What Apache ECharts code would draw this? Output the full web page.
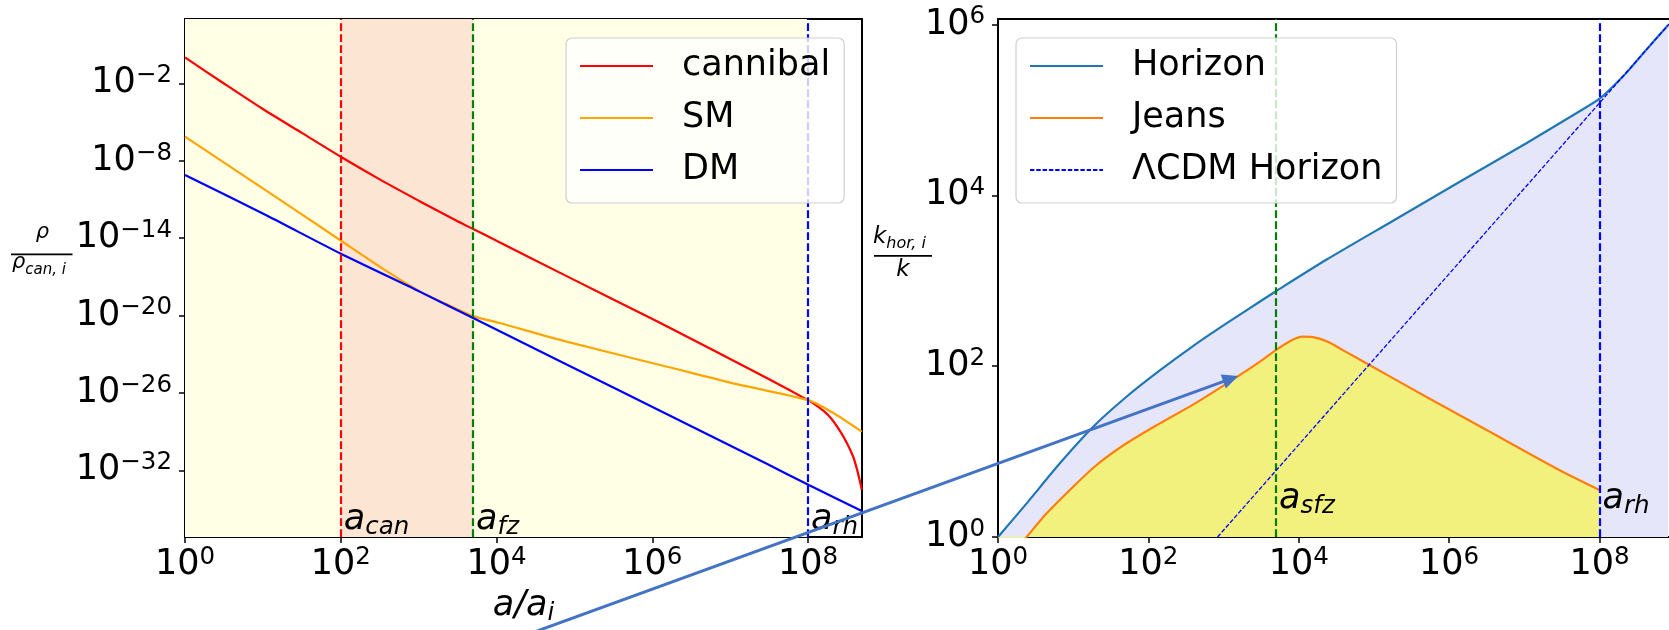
<!DOCTYPE html>
<html><head><meta charset="utf-8">
<script src="https://cdn.jsdelivr.net/npm/echarts@6/dist/echarts.min.js"></script>
<style>html,body{margin:0;padding:0;background:#fff}#c{width:1669px;height:630px}</style>
</head><body><div id="c"></div>
<script>
// ---------- data: log10 values ----------
const cannibalLogA   = [0, 0.5, 1.0, 1.5, 2.0, 2.5, 3.0, 3.5, 3.70, 4.0, 4.90, 6.06, 7.47, 8.01, 8.10, 8.20, 8.30, 8.41, 8.50, 8.58, 8.63, 8.67, 8.69];
const cannibalLogRho = [0, -2.02, -4.0, -5.85, -7.7, -9.45, -11.1, -12.7, -13.3, -14.2, -16.95, -20.45, -24.85, -26.6, -26.95, -27.4, -28.0, -28.95, -29.9, -30.95, -31.95, -32.95, -33.5];
const smLogA   = [0, 1.0, 1.99, 2.6, 3.02, 3.35, 3.70, 4.05, 4.90, 6.19, 7.04, 8.02, 8.33, 8.69];
const smLogRho = [-6.14, -10.15, -14.15, -16.6, -18.15, -19.1, -20.05, -20.6, -22.03, -23.97, -25.26, -26.6, -27.58, -29.0];
const dmLogA   = [0, 1.05, 1.99, 3.02, 3.70, 4.90, 6.19, 7.47, 8.01, 8.69];
const dmLogRho = [-9.11, -12.25, -15.18, -18.17, -20.2, -23.8, -27.65, -31.5, -33.14, -35.15];

const horizonLogA = [0, 0.381, 0.823, 1.266, 1.709, 2.152, 2.594, 3.038, 3.48, 3.702, 4.366, 5.25, 6.136, 7.022, 7.686, 8.005, 8.35, 8.6, 8.912];
const horizonLogK = [0, 0.394, 0.863, 1.291, 1.642, 1.95, 2.235, 2.5, 2.754, 2.88, 3.245, 3.70, 4.155, 4.607, 4.958, 5.134, 5.427, 5.68, 5.992];
const jeansLogA = [0, 0.381, 0.647, 1.0, 1.311, 1.709, 2.152, 2.594, 3.03, 3.48, 3.70, 3.9, 4.05, 4.19, 4.4, 4.586, 4.941, 5.694, 6.578, 7.465, 8.0];
const jeansLogK = [-0.4, 0, 0.277, 0.589, 0.843, 1.097, 1.33, 1.55, 1.79, 2.05, 2.19, 2.30, 2.345, 2.34, 2.28, 2.188, 2.013, 1.642, 1.214, 0.784, 0.55];
const lcdmLogA = [2.92, 5.0, 8.0, 8.925];
const lcdmLogK = [0, 2.08, 5.08, 6.005];

const leftXTicks  = [1, 1e2, 1e4, 1e6, 1e8];
const leftYTicks  = [1e-2, 1e-8, 1e-14, 1e-20, 1e-26, 1e-32];
const rightXTicks = [1, 1e2, 1e4, 1e6, 1e8];
const rightYTicks = [1, 1e2, 1e4, 1e6];

const leftNames  = ['cannibal', 'SM', 'DM'];
const rightNames = ['Horizon', 'Jeans', '\u039BCDM Horizon'];

const aCan = 1e2, aFz = 5e3, aRh = 1e8, aSfz = 5e3;
const leftRange  = {xmin: 1, xmax: Math.pow(10, 8.693), ymin: Math.pow(10, -37.17), ymax: Math.pow(10, 2.98)};
const rightRange = {xmin: 1, xmax: Math.pow(10, 8.925), ymin: 1, ymax: Math.pow(10, 6.064)};

// ---------- helpers ----------
const FONT = 'DejaVu Sans';
const pairs = (la, lv) => la.map((x, i) => [Math.pow(10, x), Math.pow(10, lv[i])]);

function powLabel(v) {
  const e = Math.round(Math.log10(v));
  return '{b|10}{e|' + (e < 0 ? '\u2212' + (-e) : String(e)) + '}';
}
const tickRich = {
  b: {fontSize: 35, fontFamily: FONT, color: '#000', lineHeight: 40, verticalAlign: 'middle'},
  e: {fontSize: 24.5, fontFamily: FONT, color: '#000', lineHeight: 28, verticalAlign: 'top'}
};
const spine = {show: true, onZero: false, lineStyle: {color: '#000', width: 2}};

function mainAxis(grid, min, max, ticks, pos) {
  return {
    type: 'log', logBase: 10, gridIndex: grid, min: min, max: max, position: pos,
    axisLine: spine,
    axisTick: {show: true, inside: false, length: 6, lineStyle: {color: '#000', width: 1.5}, customValues: ticks},
    minorTick: {show: false}, splitLine: {show: false},
    axisLabel: {show: true, margin: (pos === 'bottom') ? 8 : 13, customValues: ticks, formatter: powLabel, rich: tickRich}
  };
}
function sideAxis(grid, min, max, pos) {
  return {
    type: 'log', logBase: 10, gridIndex: grid, min: min, max: max, position: pos,
    axisLine: spine, axisTick: {show: false}, axisLabel: {show: false},
    splitLine: {show: false}, minorTick: {show: false}
  };
}
function curve(name, data, color, xi, yi, extra) {
  return Object.assign({
    name: name, type: 'line', xAxisIndex: xi, yAxisIndex: yi, data: data,
    symbol: 'none', showSymbol: false, smooth: 0.25, z: 2, silent: true,
    color: color, lineStyle: {color: color, width: 2.2}, itemStyle: {color: color}
  }, extra || {});
}
const vline = (a, color) => ({xAxis: a, lineStyle: {color: color, type: [7.7, 3.3], width: 2.2}});

function legendCfg(names, left) {
  return {
    data: names, orient: 'vertical', left: left, top: 38, itemWidth: 73, itemHeight: 14, itemGap: 12,
    padding: [8, 14, 13, 13], backgroundColor: 'rgba(255,255,255,0.8)',
    borderColor: '#cfcfcf', borderWidth: 1.2, borderRadius: 6, selectedMode: false,
    itemStyle: {opacity: 0, borderWidth: 0},
    textStyle: {fontSize: 35, fontFamily: FONT, color: '#000', lineHeight: 40, padding: [0, 0, 0, 24]}
  };
}

const option = {
  animation: false,
  grid: [
    {left: 185, top: 19, width: 677, height: 518, containLabel: false},
    {left: 998, top: 19, width: 672, height: 518, containLabel: false}
  ],
  xAxis: [
    mainAxis(0, leftRange.xmin, leftRange.xmax, leftXTicks, 'bottom'),
    sideAxis(0, leftRange.xmin, leftRange.xmax, 'top'),
    mainAxis(1, rightRange.xmin, rightRange.xmax, rightXTicks, 'bottom'),
    sideAxis(1, rightRange.xmin, rightRange.xmax, 'top')
  ],
  yAxis: [
    mainAxis(0, leftRange.ymin, leftRange.ymax, leftYTicks, 'left'),
    sideAxis(0, leftRange.ymin, leftRange.ymax, 'right'),
    mainAxis(1, rightRange.ymin, rightRange.ymax, rightYTicks, 'left')
  ],
  legend: [legendCfg(leftNames, 566), legendCfg(rightNames, 1016)],
  series: [
    { // left background bands and vertical markers
      type: 'line', xAxisIndex: 0, yAxisIndex: 0, data: [], silent: true, z: 1,
      markArea: {silent: true, z: 1, data: [
        [{xAxis: 1, itemStyle: {color: '#ffffe6'}}, {xAxis: aRh}],
        [{xAxis: aCan, itemStyle: {color: '#fde5d3'}}, {xAxis: aFz}]
      ]},
      markLine: {silent: true, z: 3, symbol: ['none', 'none'], label: {show: false},
        data: [vline(aCan, '#ff0000'), vline(aFz, '#008000'), vline(aRh, '#0000ff')]}
    },
    curve(leftNames[0], pairs(cannibalLogA, cannibalLogRho), '#ff0000', 0, 0),
    curve(leftNames[1], pairs(smLogA, smLogRho), '#ffa500', 0, 0),
    curve(leftNames[2], pairs(dmLogA, dmLogRho), '#0000ff', 0, 0),
    curve(rightNames[0], pairs(horizonLogA, horizonLogK), '#1f77b4', 2, 2,
      {areaStyle: {color: '#e6e6fa', opacity: 1, origin: 'start'}}),
    curve(rightNames[1], pairs(jeansLogA, jeansLogK), '#ff7f0e', 2, 2,
      {areaStyle: {color: '#f2f17e', opacity: 1, origin: 'start'}}),
    curve(rightNames[2], pairs(lcdmLogA, lcdmLogK), '#0000ff', 2, 2,
      {smooth: false, z: 3, lineStyle: {color: '#0000ff', width: 1.3, type: [4.4, 1.9]}}),
    { // right vertical markers
      type: 'line', xAxisIndex: 2, yAxisIndex: 2, data: [], silent: true, z: 1,
      markLine: {silent: true, z: 3, symbol: ['none', 'none'], label: {show: false},
        data: [vline(aSfz, '#008000'), vline(aRh, '#0000ff')]}
    }
  ]
};

const chart = echarts.init(document.getElementById('c'), null, {renderer: 'canvas', devicePixelRatio: 1});
chart.setOption(option);

// ---------- annotations (text labels, axis titles, arrow) ----------
const subRich = (big, small) => ({
  m: {fontSize: big, fontStyle: 'italic', fontFamily: FONT, fill: '#000', lineHeight: 40, verticalAlign: 'middle'},
  s: {fontSize: small, fontStyle: 'italic', fontFamily: FONT, fill: '#000', lineHeight: 40 - 17.2, verticalAlign: 'bottom'}
});
const g = [];
function markerLabel(xi, yi, a, ybottom, sub, dy) {
  const p = chart.convertToPixel({xAxisIndex: xi, yAxisIndex: yi}, [a, ybottom]);
  g.push({type: 'text', z: 50, style: {text: '{m|a}{s|' + sub + '}', rich: subRich(35, 24.5),
    x: p[0] + 3, y: p[1] - dy, align: 'left', verticalAlign: 'middle'}});
}
markerLabel(0, 0, aCan, leftRange.ymin, 'can', 17);
markerLabel(0, 0, aFz, leftRange.ymin, 'fz', 17);
markerLabel(0, 0, aRh, leftRange.ymin, 'rh', 17);
markerLabel(2, 2, aSfz, rightRange.ymin, 'sfz', 38);
markerLabel(2, 2, aRh, rightRange.ymin, 'rh', 38);

// x-axis title of left panel
g.push({type: 'text', z: 50, style: {text: '{m|a/a}{s|i}', rich: subRich(35, 24.5),
  x: 523.5, y: 606, align: 'center', verticalAlign: 'middle'}});

// y-axis titles (fractions)
const fracRich = (big, small, drop) => ({
  m: {fontSize: big, fontStyle: 'italic', fontFamily: FONT, fill: '#000', lineHeight: 30, verticalAlign: 'middle'},
  s: {fontSize: small, fontStyle: 'italic', fontFamily: FONT, fill: '#000', lineHeight: 30 - 2 * drop, verticalAlign: 'bottom'}
});
g.push({type: 'text', z: 50, style: {text: '\u03C1', fontSize: 21, fontStyle: 'italic', fontFamily: FONT, fill: '#000',
  x: 42.5, y: 233, align: 'center', verticalAlign: 'middle'}});
g.push({type: 'rect', z: 50, shape: {x: 11, y: 253.5, width: 61.5, height: 1.7}, style: {fill: '#000'}});
g.push({type: 'text', z: 50, style: {text: '{m|\u03C1}{s|can, i}', rich: fracRich(21, 15, 7.3),
  x: 12, y: 263, align: 'left', verticalAlign: 'middle'}});

g.push({type: 'text', z: 50, style: {text: '{m|k}{s|hor, i}', rich: fracRich(23, 16, 6.5),
  x: 873, y: 237, align: 'left', verticalAlign: 'middle'}});
g.push({type: 'rect', z: 50, shape: {x: 874, y: 255, width: 58, height: 1.7}, style: {fill: '#000'}});
g.push({type: 'text', z: 50, style: {text: 'k', fontSize: 23, fontStyle: 'italic', fontFamily: FONT, fill: '#000',
  x: 903, y: 270.5, align: 'center', verticalAlign: 'middle'}});

// connecting arrow (annotation in page pixels)
const ARROW_TAIL = [530, 633.6], ARROW_TIP = [1238.3, 376];
(function () {
  const dx = ARROW_TIP[0] - ARROW_TAIL[0], dy = ARROW_TIP[1] - ARROW_TAIL[1];
  const L = Math.hypot(dx, dy), ux = dx / L, uy = dy / L, nx = -uy, ny = ux;
  const hl = 16, hw = 7.5;
  const bx = ARROW_TIP[0] - hl * ux, by = ARROW_TIP[1] - hl * uy;
  g.push({type: 'line', z: 60, shape: {x1: ARROW_TAIL[0], y1: ARROW_TAIL[1], x2: bx + 2 * ux, y2: by + 2 * uy},
    style: {stroke: '#4472c4', lineWidth: 3}});
  g.push({type: 'polygon', z: 60, shape: {points: [ARROW_TIP, [bx + hw * nx, by + hw * ny], [bx - hw * nx, by - hw * ny]]},
    style: {fill: '#4472c4'}});
})();

chart.setOption({graphic: g});
</script>
</body></html>
